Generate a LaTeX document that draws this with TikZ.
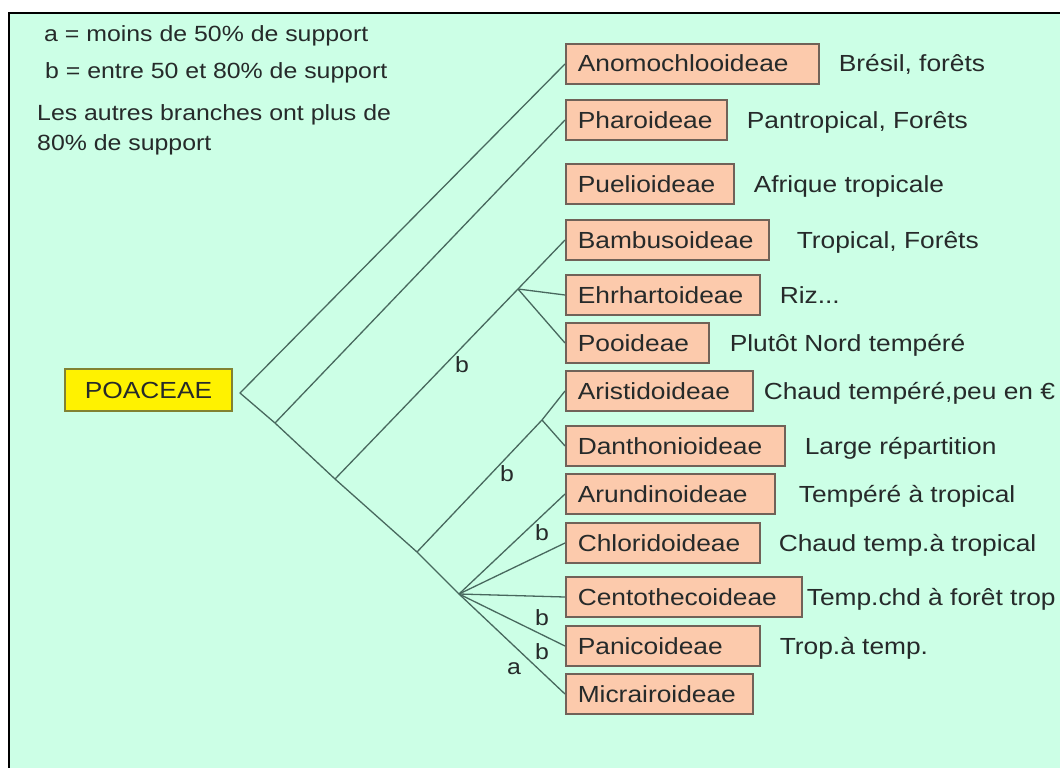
\documentclass[tikz,border=0pt]{standalone}
\usepackage{fontspec}
\setmainfont{Liberation Sans}[FakeStretch=1.13]
\usetikzlibrary{positioning}

\definecolor{mint}{RGB}{204,255,230}
\definecolor{salmon}{RGB}{252,202,172}
\definecolor{boxline}{RGB}{112,98,88}
\definecolor{branchcol}{RGB}{72,104,94}
\definecolor{ink}{RGB}{38,42,42}
\definecolor{olive}{RGB}{130,130,50}

\tikzset{
  leaf/.style={draw=boxline, line width=1.6pt, fill=salmon, anchor=west,
    minimum height=40pt, inner xsep=12pt, inner ysep=0pt, align=left,
    text height=17pt, text depth=1pt, text=ink, font=\fontsize{23.3}{28}\selectfont},
  desc/.style={inner sep=0pt, text height=17pt, text depth=1pt, text=ink,
    font=\fontsize{23.3}{28}\selectfont},
  famille/.style={draw=olive, line width=1.6pt, fill=yellow, minimum width=167pt,
    minimum height=42pt, text=ink, font=\fontsize{23.3}{28}\selectfont},
  branch/.style={draw=branchcol, line width=1.3pt, line join=round},
  supp/.style={inner sep=0pt, text=ink, font=\fontsize{22}{26}\selectfont},
}

\begin{document}
\begin{tikzpicture}[x=1pt,y=-1pt]
\useasboundingbox (0,0) rectangle (1060,768);
\fill[white] (0,0) rectangle (1060,768);
\fill[mint] (9,13) rectangle (1060,768);
\draw[black, line width=2pt] (9,768) -- (9,13) -- (1060,13);

% legende
\node[supp, anchor=base west] (lega) at (44,42) {a = moins de 50\% de support};
\node[supp, anchor=base west] (legb) at (45,78) {b = entre 50 et 80\% de support};
\node[supp, anchor=base west] (legc) at (37,120) {Les autres branches ont plus de};
\node[supp, anchor=base west] (legd) at (37,150) {80\% de support};

\node[famille] (poa) at (148.5,390) {POACEAE};

% sous-familles
\foreach \nm/\y/\w/\txt/\dsc/\g in {
  anom/64/253/Anomochlooideae/{Brésil, forêts}/19,
  phar/120/161/Pharoideae/{Pantropical, Forêts}/19,
  puel/184/168/Puelioideae/{Afrique tropicale}/19,
  bamb/240/203/Bambusoideae/{Tropical, Forêts}/27,
  ehrh/295/194/Ehrhartoideae/{Riz...}/19,
  pooi/343/143/Pooideae/{Plutôt Nord tempéré}/20,
  aris/391/187/Aristidoideae/{Chaud tempéré,peu en €}/10,
  dant/446/219/Danthonioideae/{Large répartition}/19,
  arun/494/209/Arundinoideae/{Tempéré à tropical}/23,
  chlo/543/194/Chloridoideae/{Chaud temp.à tropical}/18,
  cent/597/236/Centothecoideae/{Temp.chd à forêt trop}/4,
  pani/646/194/Panicoideae/{Trop.à temp.}/19}
{
  \node[leaf, text width=\w-24] (\nm) at (565,\y) {\txt};
  \node[desc, right=\g pt of \nm] (\nm-d) {\dsc};
}
\node[leaf, text width=187-24] (micr) at (565,694) {Micrairoideae};

% arbre
\coordinate (root) at (240,393);
\coordinate (n1) at (275,423);
\coordinate (n2) at (335,479);
\coordinate (n3) at (417,552);
\coordinate (n4) at (459,594);
\coordinate (nb) at (518,289);
\coordinate (nd) at (542,420);

\draw[branch] (anom.west) -- (root) -- (n1) -- (n2) -- (n3) -- (n4);
\draw[branch] (n1) -- (phar.west);
\draw[branch] (n2) -- (nb) -- (bamb.west);
\draw[branch] (nb) -- (ehrh.west);
\draw[branch] (nb) -- (pooi.west);
\draw[branch] (n3) -- (nd) -- (aris.west);
\draw[branch] (nd) -- (dant.west);
\foreach \t in {arun,chlo,cent,pani,micr}
  \draw[branch] (n4) -- (\t.west);

% supports
\node[supp] (s1) at (462,365) {b};
\node[supp] (s2) at (507,474) {b};
\node[supp] (s3) at (542,533) {b};
\node[supp] (s4) at (542,618) {b};
\node[supp] (s5) at (542,652) {b};
\node[supp] (s6) at (514,669) {a};
\end{tikzpicture}
\end{document}
